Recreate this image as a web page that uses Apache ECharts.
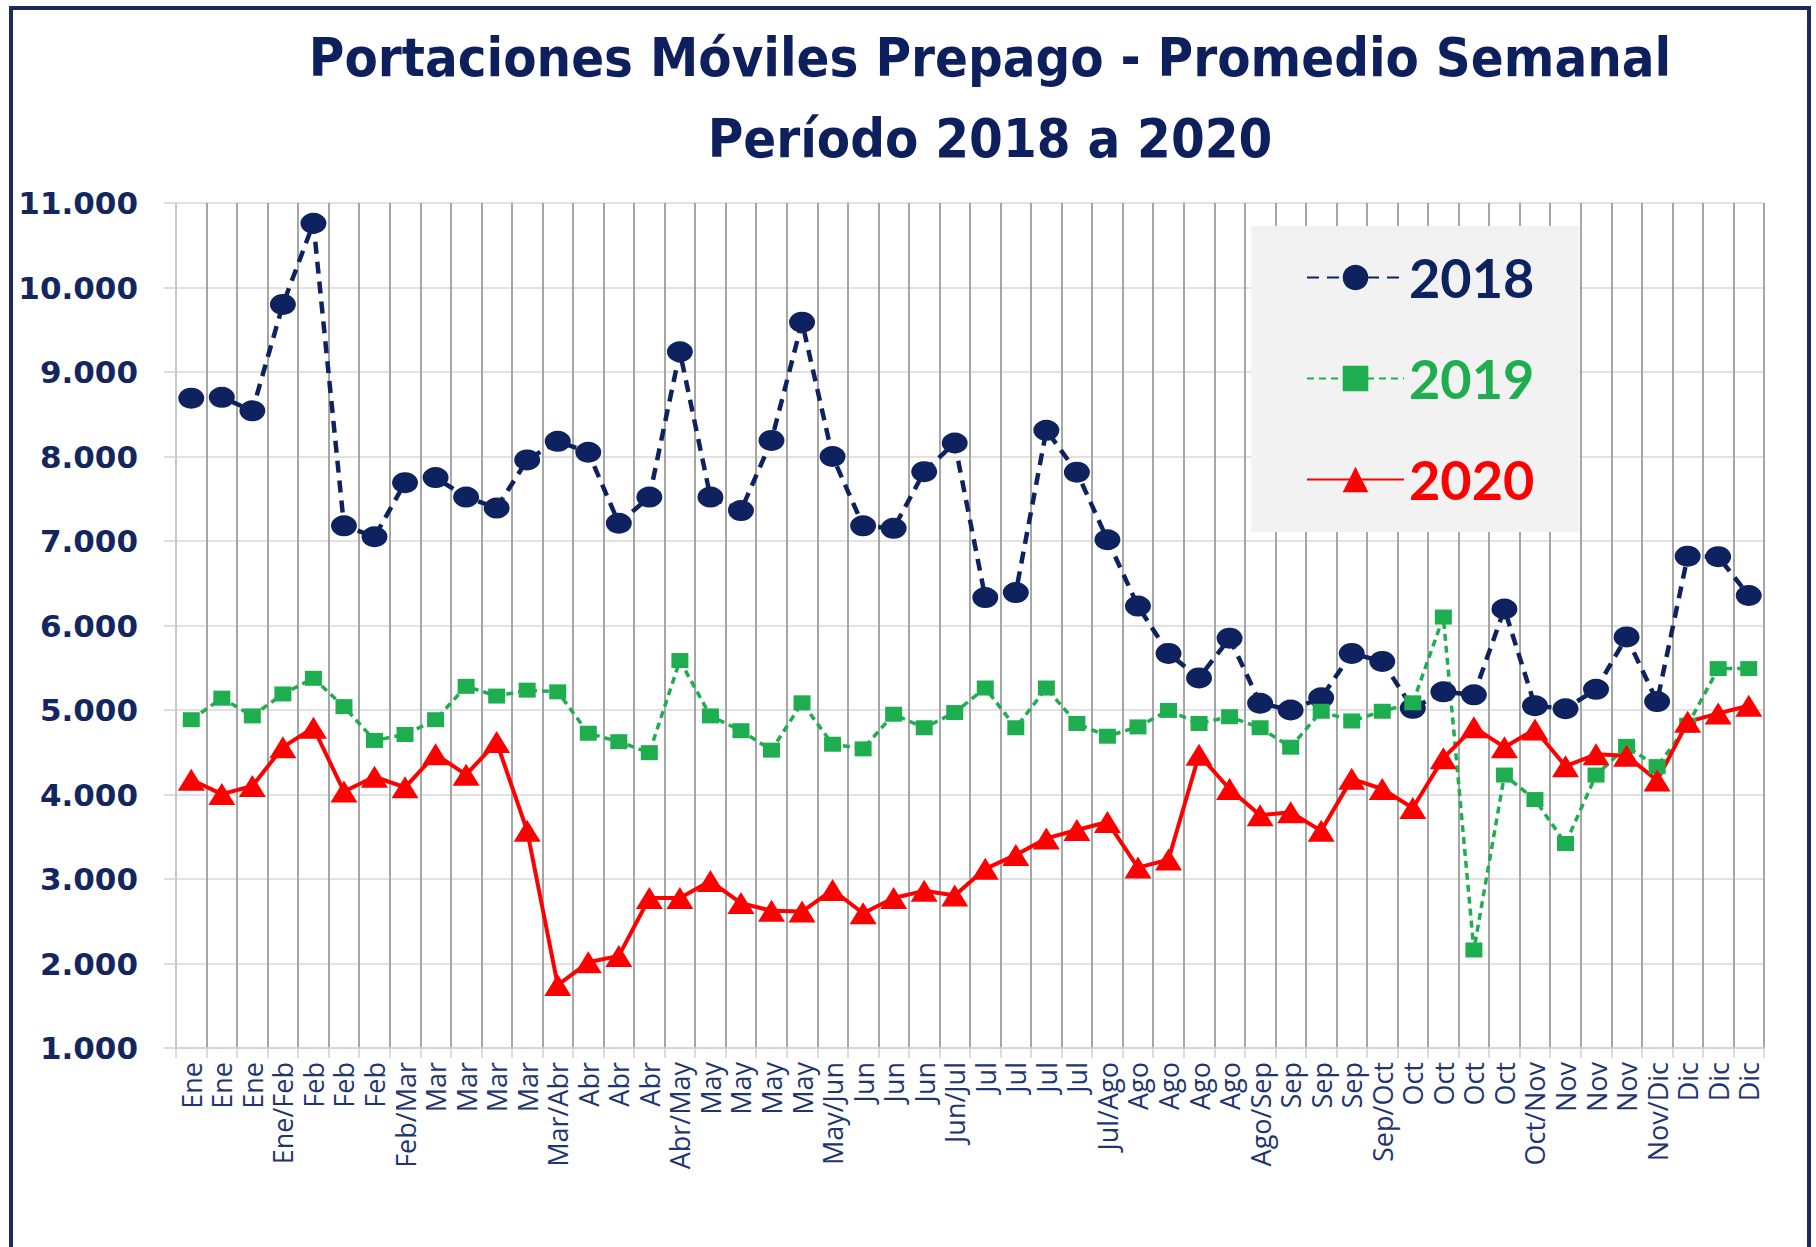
<!DOCTYPE html>
<html>
<head>
<meta charset="utf-8">
<script src="https://cdn.jsdelivr.net/npm/echarts@6/dist/echarts.min.js"></script>
<style>
html,body{margin:0;padding:0;background:#fff;}
#chart{width:1816px;height:1247px;}
</style>
</head>
<body>
<div id="chart"></div>
<script>
const categories = ["Ene","Ene","Ene","Ene/Feb","Feb","Feb","Feb","Feb/Mar","Mar","Mar","Mar","Mar","Mar/Abr","Abr","Abr","Abr","Abr/May","May","May","May","May","May/Jun","Jun","Jun","Jun","Jun/Jul","Jul","Jul","Jul","Jul","Jul/Ago","Ago","Ago","Ago","Ago","Ago/Sep","Sep","Sep","Sep","Sep/Oct","Oct","Oct","Oct","Oct","Oct/Nov","Nov","Nov","Nov","Nov/Dic","Dic","Dic","Dic"];
const v2018 = [8690,8700,8540,9800,10760,7180,7050,7690,7750,7520,7390,7960,8180,8050,7210,7520,9240,7520,7360,8190,9590,8000,7180,7150,7820,8160,6330,6390,8310,7815,7015,6230,5670,5380,5850,5080,5000,5145,5670,5575,5020,5215,5180,6195,5050,5015,5245,5865,5100,6820,6815,6355];
const v2019 = [4885,5140,4930,5190,5375,5040,4640,4710,4885,5280,5165,5235,5215,4725,4625,4495,5585,4930,4755,4525,5085,4595,4540,4950,4790,4970,5260,4790,5260,4840,4690,4800,4995,4840,4920,4790,4560,4985,4870,4985,5085,6100,2160,4230,3940,3420,4230,4570,4330,4820,5490,5490];
const v2020 = [4175,4005,4100,4560,4790,4035,4210,4085,4475,4235,4620,3570,1745,2015,2090,2775,2775,2975,2715,2625,2615,2870,2595,2775,2860,2805,3120,3285,3480,3580,3675,3135,3230,4470,4065,3755,3790,3570,4185,4065,3840,4430,4795,4560,4770,4335,4475,4460,4165,4860,4960,5050];
const seriesNames = ["2018","2019","2020"];
const titleLines = ["Portaciones Móviles Prepago - Promedio Semanal","Período 2018 a 2020"];

const NAVY = '#0e2260', GREEN = '#1fae4f', RED = '#ff0000';
const chart = echarts.init(document.getElementById('chart'), null, {renderer:'svg'});
const fmt = v => String(v).replace(/\B(?=(\d{3})+(?!\d))/g, '.');

chart.setOption({
  backgroundColor:'#ffffff',
  animation:false,
  title:{
    text: titleLines.join('\n'),
    left: 985, top: 12, textAlign:'center',
    textStyle:{fontFamily:'DejaVu Sans Condensed', fontWeight:'bold', fontSize:54, lineHeight:81, color:'#0d1f5c'}
  },
  graphic:[{type:'rect', shape:{x:11,y:8,width:1798,height:1300}, style:{fill:'none', stroke:'#1c2b5a', lineWidth:4}, z:100}],
  legend:{
    orient:'vertical', left:1251, top:226,
    padding:[20,45,21,55],
    backgroundColor:'#f2f2f2',
    itemWidth:97, itemHeight:32, itemGap:38,
    textStyle:{fontFamily:'Lato', fontWeight:'bold', fontSize:54, lineHeight:63},
    data:[
      {name:seriesNames[0], textStyle:{color:NAVY}},
      {name:seriesNames[1], textStyle:{color:GREEN}},
      {name:seriesNames[2], textStyle:{color:RED}}
    ]
  },
  grid:{left:176, right:52, top:203, bottom:199, containLabel:false},
  xAxis:{
    type:'category', data:categories, boundaryGap:true,
    axisLine:{lineStyle:{color:'#d0d0d0', width:1.5}},
    axisTick:{show:true, interval:0, length:10, lineStyle:{color:'#d0d0d0', width:1.5}},
    splitLine:{show:true, interval:0, lineStyle:{color:'#a6a6a6', width:2}},
    axisLabel:{interval:0, rotate:90, margin:14, fontFamily:'Open Sans', fontSize:27, color:'#1f3570'}
  },
  yAxis:{
    type:'value', min:1000, max:11000, interval:1000,
    axisLine:{show:true, lineStyle:{color:'#d0d0d0', width:1.5}},
    axisTick:{show:true, length:12, lineStyle:{color:'#d0d0d0', width:1.5}},
    splitLine:{lineStyle:{color:'#d9d9d9', width:1.5}},
    axisLabel:{formatter:fmt, margin:38, fontFamily:'DejaVu Sans', fontWeight:'bold', fontSize:31, color:'#14265e'}
  },
  series:[
    {name:seriesNames[0], type:'line', data:v2018, symbol:'circle', symbolSize:[26,21],
     itemStyle:{color:NAVY}, lineStyle:{color:NAVY, width:4.5, type:[12,8]}},
    {name:seriesNames[1], type:'line', data:v2019, symbol:'rect', symbolSize:[17,15],
     itemStyle:{color:GREEN}, lineStyle:{color:GREEN, width:3.5, type:[7,5]}},
    {name:seriesNames[2], type:'line', data:v2020, symbol:'triangle', symbolSize:[27,22],
     itemStyle:{color:RED}, lineStyle:{color:RED, width:4, type:'solid'}}
  ]
});
</script>
</body>
</html>
